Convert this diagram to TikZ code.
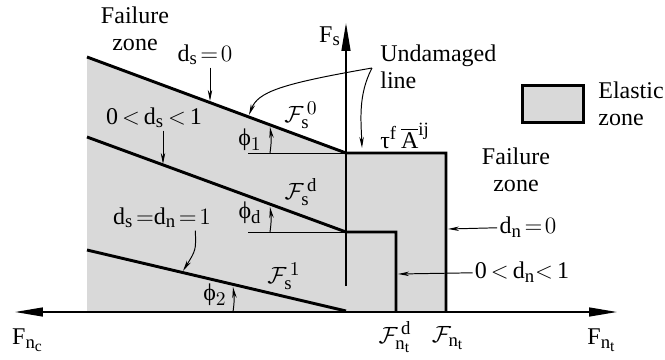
\documentclass[tikz,border=0pt]{standalone}
\usepackage{fontspec}
\setmainfont{Liberation Serif}
\setmathrm{Liberation Serif}
\DeclareMathSizes{12.3}{12.3}{9.6}{8}
\usetikzlibrary{arrows.meta}
\definecolor{zoneGray}{HTML}{D9D9D9}

\begin{document}
\begin{tikzpicture}[x=0.018cm,y=-0.018cm,>=Latex,font=\fontsize{12.3}{14}\selectfont]
  \tikzstyle{bound}=[line width=1.5pt,line join=miter]
  \tikzstyle{guide}=[line width=0.5pt]
  \tikzstyle{axis}=[line width=0.8pt]
  \tikzstyle{pointer}=[line width=0.5pt,-{Stealth[length=0.2cm,width=0.08cm]}]
  \tikzstyle{tag}=[inner sep=1pt]
  \useasboundingbox (0,0) rectangle (665,360);
  % elastic region and damage lines
  \fill[zoneGray] (87,57) -- (346,153) -- (446,153) -- (446,312) -- (87,312) -- cycle;
  \draw[guide] (248,153) -- (346,153);
  \draw[guide] (248,232) -- (346,232);
  \draw[bound] (87,57) -- (346,153) -- (446,153) -- (446,312);
  \draw[bound] (87,137) -- (346,232) -- (396,232) -- (396,312);
  \draw[bound] (87,250) -- (346,311);
  % axes
  \coordinate (nc) at (15,312);
  \coordinate (nt) at (617,312);
  \coordinate (sb) at (346,286);
  \coordinate (st) at (346,23);
  \draw[axis,{Triangle[length=0.5cm,width=0.16cm]}-{Triangle[length=0.5cm,width=0.16cm]}] (nc) -- (nt);
  \draw[axis,-{Triangle[length=0.5cm,width=0.16cm]}] (sb) -- (st);
  % angle marks
  \coordinate (a1) at (270,153);  \coordinate (b1) at (270,127);
  \coordinate (ad) at (270,232);  \coordinate (bd) at (270,207);
  \coordinate (a2) at (233,312);  \coordinate (b2) at (233,287);
  \draw[pointer] (a1) to[bend right=8] (b1);
  \draw[pointer] (ad) to[bend right=8] (bd);
  \draw[pointer] (a2) to[bend right=8] (b2);
  \node[tag] (phi1) at (250,140) {ϕ$_1$};
  \node[tag] (phid) at (250,213) {ϕ$_{\mathrm d}$};
  \node[tag] (phi2) at (215,295) {ϕ$_2$};
  % line labels
  \node[tag] (fs0) at (301,115) {$\mathcal{F}_{\mathrm s}^{\,0}$};
  \node[tag] (fsd) at (301,192) {$\mathcal{F}_{\mathrm s}^{\,\mathrm d}$};
  \node[tag] (fs1) at (284,276) {$\mathcal{F}_{\mathrm s}^{\,1}$};
  \node[tag] (tau) at (405,136) {τ$^{\mathrm f}\,\overline{\mathrm A}^{\mathrm{ij}}$};
  % zone texts
  \node[tag,align=center] (failL) at (135,29) {Failure\\zone};
  \node[tag,align=center] (failR) at (516,170) {Failure\\zone};
  \node[draw,line width=1.5pt,fill=zoneGray,minimum width=1.1cm,minimum height=0.68cm] (key) at (553,104) {};
  \node[tag,align=left,anchor=west] (keytxt) at (596,104) {Elastic\\zone};
  \node[tag,align=left,anchor=west] (undam) at (378,67) {Undamaged\\line};
  % damage states
  \node[tag] (ds0) at (205,55) {d$_{\mathrm s}\!=\!0$};
  \node[tag] (dsm) at (154,118) {0\,$<$\,d$_{\mathrm s}$\,$<$\,1};
  \node[tag] (dsn) at (162,218) {d$_{\mathrm s}\!=\!$\,d$_{\mathrm n}\!=\!1$};
  \node[tag] (dn0) at (528,227) {d$_{\mathrm n}\!=\!0$};
  \node[tag] (dnm) at (522,272) {0\,$<$\,d$_{\mathrm n}$$<$\,1};
  \coordinate (h0) at (210,101);
  \coordinate (hm) at (163,164);
  \coordinate (hn) at (183,271);
  \coordinate (hn0) at (448,229);
  \coordinate (hnm) at (398,274);
  \coordinate (ul) at (372,68);
  \coordinate (hu1) at (249,115);
  \coordinate (hu2) at (362,148);
  \draw[pointer] (ds0.south -| h0) -- (h0);
  \draw[pointer] (dsm.south -| hm) -- (hm);
  \draw[pointer] ([xshift=0.6cm]dsn.south) .. controls (196,250) .. (hn);
  \draw[pointer] (dn0) -- (hn0);
  \draw[pointer] (dnm) -- (hnm);
  \draw[pointer] (ul) .. controls (280,84) and (258,92) .. (hu1);
  \draw[pointer] (ul) .. controls (358,95) and (361,120) .. (hu2);
  % axis labels
  \node[tag] (fsax) at (330,36) {F$_{\mathrm s}$};
  \node[tag] (fnc) at (28,340) {F$_{\mathrm{n_c}}$};
  \node[tag] (fnt) at (602,340) {F$_{\mathrm{n_t}}$};
  \node[tag] (fntd) at (395,337) {$\mathcal{F}_{\mathrm{n_t}}^{\,\mathrm d}$};
  \node[tag] (fntf) at (448,338) {$\mathcal{F}_{\mathrm{n_t}}$};
\end{tikzpicture}
\end{document}
